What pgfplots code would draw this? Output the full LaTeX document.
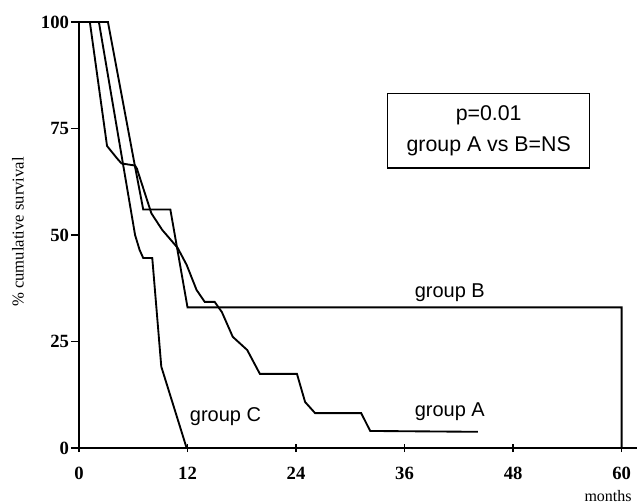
\documentclass[border=0pt]{standalone}
\usepackage{fontspec}
\setmainfont{Liberation Serif}
\newfontfamily\grpfont{Liberation Sans}
\usepackage{pgfplots}
\pgfplotsset{compat=1.18}

% survival curves, months vs % cumulative survival
\pgfplotstableread{
m v
0 100
1.2 100
3.1 70.9
4.2 68.0
4.7 66.8
6.2 66.3
6.4 65.6
8.0 55.1
9.2 51.2
10.9 47.0
11.9 43.0
13.0 37.1
13.9 34.3
15.0 34.3
15.8 31.9
17.0 26.1
18.6 23.0
20.0 17.4
24.1 17.4
25.0 10.8
26.1 8.2
31.2 8.2
32.2 4.0
44.1 3.8
}\groupA
\pgfplotstableread{
m v
0 100
3.2 100
6.2 66
7.1 56
10.1 56
12.0 33
60 33
60 0
}\groupB
\pgfplotstableread{
m v
0 100
2.2 100
6.2 50
6.7 46.5
7.1 44.6
8.1 44.6
9.1 19.1
11.9 0
}\groupC

\begin{document}
\begin{tikzpicture}
\useasboundingbox (-59.25pt,-41.25pt) rectangle (419.25pt,336pt);
\begin{axis}[
  scale only axis,
  width=418.5pt, height=319.5pt,
  xmin=0, xmax=61.7,
  ymin=0, ymax=100,
  axis lines=left,
  axis line style={line width=1.3pt,-},
  xtick={0,12,24,36,48,60},
  ytick={0,25,50,75,100},
  xtick style={line width=1pt, black},
  ytick style={line width=1pt, black},
  x tick style={/pgfplots/tick align=center},
  y tick style={/pgfplots/tick align=outside},
  major tick length=6pt,
  /pgf/number format/assume math mode=true,
  ticklabel style={font=\bfseries\fontsize{14}{16}\selectfont},
  xticklabel style={yshift=-8pt},
  yticklabel style={xshift=-1pt},
  xlabel={months},
  xlabel style={at={(axis description cs:1,0)}, anchor=north east, yshift=-28pt,
    xshift=-0.5pt, font=\fontsize{12}{14}\selectfont},
  ylabel={\% cumulative survival},
  ylabel style={at={(axis description cs:-0.1093,0.507)}, anchor=center,
    font=\fontsize{12.5}{15}\selectfont},
  clip=false,
]
\addplot[black, line width=1.4pt] table[x=m,y=v] {\groupA};
\addplot[black, line width=1.4pt] table[x=m,y=v] {\groupB};
\addplot[black, line width=1.4pt] table[x=m,y=v] {\groupC};
\node[font=\grpfont\fontsize{15}{18}\selectfont] at (axis cs:41.0,36.4) {group B};
\node[font=\grpfont\fontsize{15}{18}\selectfont] at (axis cs:41.0,8.5) {group A};
\node[font=\grpfont\fontsize{15}{18}\selectfont] at (axis cs:16.2,7.3) {group C};
\node[draw, line width=1pt, minimum width=151.5pt, minimum height=56pt, align=center,
  font=\grpfont\fontsize{16}{23}\selectfont] at (axis cs:45.3,74.5)
  {p=0.01\\group A vs B=NS};
\end{axis}
\end{tikzpicture}
\end{document}
